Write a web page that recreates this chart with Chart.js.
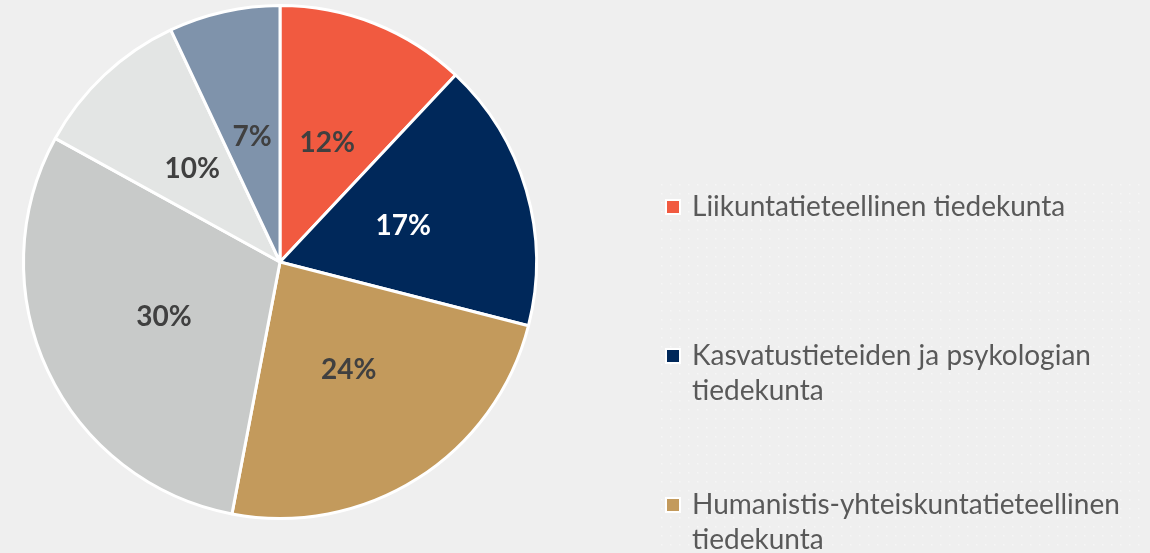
<!DOCTYPE html>
<html>
<head>
<meta charset="utf-8">
<script src="https://cdn.jsdelivr.net/npm/chart.js@4"></script>
<style>
  html, body { margin: 0; padding: 0; background: #efefef; }
  #wrap { width: 1150px; height: 553px; position: relative; }
</style>
</head>
<body>
<div id="wrap"><canvas id="facultyChart" width="1150" height="553"></canvas></div>
<script>
// data
const faculties = [
    'Liikuntatieteellinen tiedekunta',
    'Kasvatustieteiden ja psykologian tiedekunta',
    'Humanistis-yhteiskuntatieteellinen tiedekunta',
    'Informaatioteknologian tiedekunta',
    'Matemaattis-luonnontieteellinen tiedekunta',
    'Jyväskylän kauppakorkeakoulu'
];
const shares = [12, 17, 24, 30, 10, 7];
const sliceColors = ['#f15a40', '#00285a', '#c39a5c', '#c8cac9', '#e3e5e4', '#7f93ab'];
const labelColors = ['#404040', '#ffffff', '#404040', '#404040', '#404040', '#404040'];

// percent labels in the middle of each slice
const sliceLabels = {
    id: 'sliceLabels',
    afterDatasetsDraw(chart) {
        const ctx = chart.ctx;
        const meta = chart.getDatasetMeta(0);
        ctx.save();
        ctx.font = 'bold 28px Lato';
        ctx.textAlign = 'center';
        ctx.textBaseline = 'middle';
        meta.data.forEach((arc, i) => {
            const pos = arc.tooltipPosition();
            ctx.fillStyle = labelColors[i];
            ctx.fillText(shares[i] + '%', pos.x, pos.y);
        });
        ctx.restore();
    }
};

// wrap legend text to a max width
function wrapText(ctx, text, maxWidth) {
    const words = text.split(' ');
    const lines = [];
    let line = '';
    words.forEach(w => {
        const test = line ? line + ' ' + w : w;
        if (ctx.measureText(test).width > maxWidth && line) {
            lines.push(line);
            line = w;
        } else {
            line = test;
        }
    });
    lines.push(line);
    return lines;
}

// legend on the right, with the faint dotted panel behind it
const sideLegend = {
    id: 'sideLegend',
    beforeDraw(chart) {
        const ctx = chart.ctx;
        const tile = document.createElement('canvas');
        tile.width = 9; tile.height = 9;
        const t = tile.getContext('2d');
        t.fillStyle = '#f6f6f6';
        t.fillRect(4, 4, 1.5, 1.5);
        ctx.save();
        ctx.fillStyle = ctx.createPattern(tile, 'repeat');
        ctx.fillRect(655, 178, 490, 375);
        ctx.restore();
    },
    afterDraw(chart) {
        const ctx = chart.ctx;
        ctx.save();
        ctx.font = '28px Lato';
        ctx.textBaseline = 'middle';
        let y = 207;
        faculties.forEach((name, i) => {
            ctx.fillStyle = '#ffffff';
            ctx.fillRect(665, y - 8, 16, 16);
            ctx.fillStyle = sliceColors[i];
            ctx.fillRect(667, y - 6, 12, 12);
            ctx.fillStyle = '#595959';
            const lines = wrapText(ctx, name, 450);
            lines.forEach((ln, j) => ctx.fillText(ln, 692, y + j * 35));
            y += 149;
        });
        ctx.restore();
    }
};

const ctx = document.querySelector('#facultyChart').getContext('2d');
const facultyChart = new Chart(ctx, {
    type: 'pie',
    data: {
        labels: faculties,
        datasets: [{
            data: shares,
            backgroundColor: sliceColors,
            borderColor: '#ffffff',
            borderWidth: 3
        }]
    },
    options: {
        responsive: false,
        animation: false,
        layout: { padding: { left: 22, top: 4, right: 612, bottom: 33 } },
        plugins: {
            legend: { display: false },
            tooltip: { enabled: false }
        }
    },
    plugins: [sliceLabels, sideLegend]
});
</script>
</body>
</html>
